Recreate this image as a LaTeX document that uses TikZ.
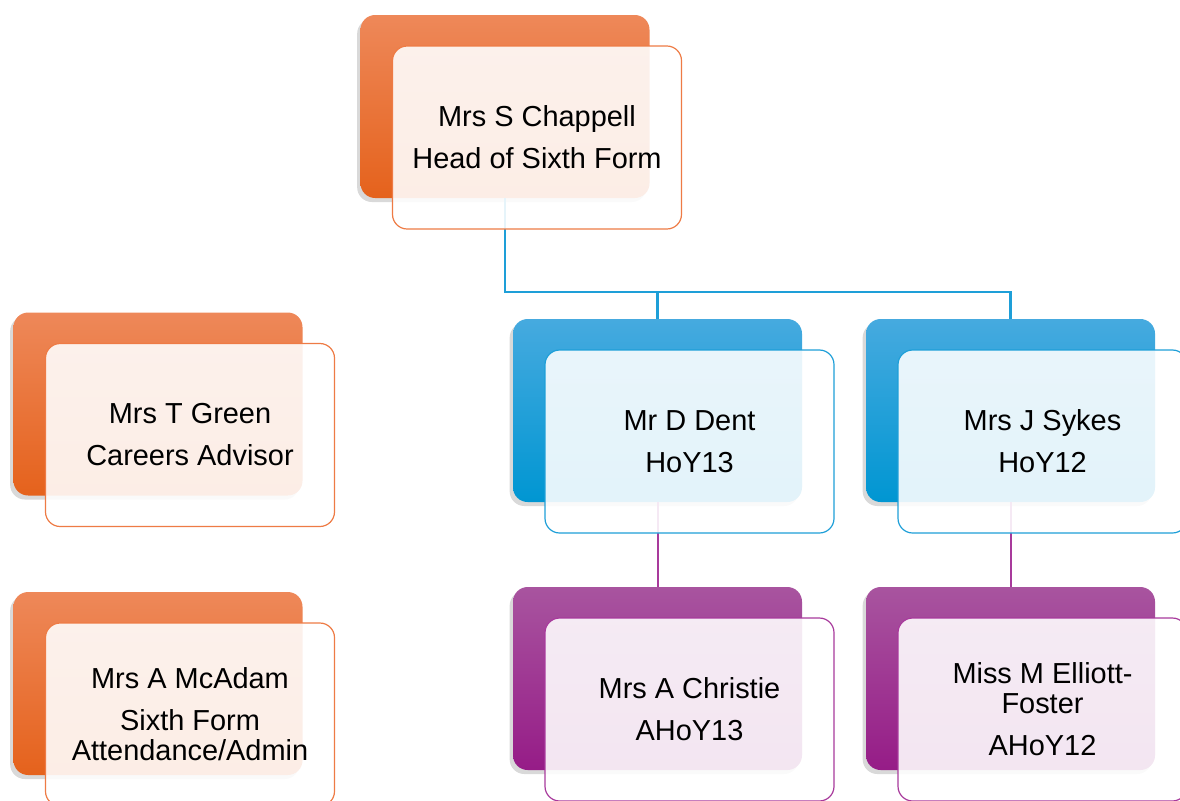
\documentclass[tikz,border=0pt]{standalone}
\usepackage{fontspec}
\setmainfont{Liberation Sans}
\usetikzlibrary{positioning, shadows}

\definecolor{orgT}{HTML}{EE8859}
\definecolor{orgM}{HTML}{F07026}
\definecolor{orgB}{HTML}{E5621C}
\definecolor{orgL}{HTML}{EE7B45}
\definecolor{bluT}{HTML}{46AADF}
\definecolor{bluM}{HTML}{0AA0DA}
\definecolor{bluB}{HTML}{0096D2}
\definecolor{bluL}{HTML}{1E9FD8}
\definecolor{purT}{HTML}{A8549F}
\definecolor{purM}{HTML}{A22792}
\definecolor{purB}{HTML}{961C87}
\definecolor{purL}{HTML}{A83A9C}

\begin{document}
\begin{tikzpicture}[x=0.75pt,y=-0.75pt,
	back/.style={rectangle, rounded corners=11pt, inner sep=0pt,
		minimum width=216.75pt, minimum height=137.25pt,
		drop shadow={shadow xshift=-2.5pt, shadow yshift=-3pt, opacity=0.3}},
	backorg/.style={back, top color=orgT, middle color=orgM, bottom color=orgB},
	backblu/.style={back, top color=bluT, middle color=bluM, bottom color=bluB},
	backpur/.style={back, top color=purT, middle color=purM, bottom color=purB},
	front/.style={rectangle, rounded corners=11pt, draw, line width=0.9pt,
		fill=white, fill opacity=0.89, text opacity=1, align=center,
		minimum width=216.75pt, minimum height=137.25pt, shift={(32,31)},
		font=\fontsize{21.7}{22.5}\selectfont},
	link/.style={line width=2.2pt, bluL},
	linkp/.style={line width=1.5pt, purL}
	]
	\clip (0,0) rectangle (1180,800);

	\node[backorg] (chapB) at (505,106.5) {};
	\node[backorg] (greenB) at (158,404) {};
	\node[backorg] (mcadB) at (158,683.5) {};
	\node[backblu] (dentB) at (657.5,410.5) {};
	\node[backblu] (sykesB) at (1010.5,410.5) {};
	\node[backpur] (christB) at (657.5,678.5) {};
	\node[backpur] (ellB) at (1010.5,678.5) {};

	\coordinate (bar) at (0,292);
	\draw[link] (chapB.south) |- (bar -| sykesB.north) -- (sykesB.north);
	\draw[link] (bar -| dentB.north) -- (dentB.north);
	\draw[linkp] (dentB.south) -- (christB.north);
	\draw[linkp] (sykesB.south) -- (ellB.north);

	\node[front, draw=orgL] (chap) at (chapB) {Mrs S Chappell\\[9pt]Head of Sixth Form};
	\node[front, draw=orgL] (green) at (greenB) {Mrs T Green\\[9pt]Careers Advisor};
	\node[front, draw=orgL] (mcad) at (mcadB) {Mrs A McAdam\\[9pt]Sixth Form\\Attendance/Admin};
	\node[front, draw=bluL] (dent) at (dentB) {Mr D Dent\\[9pt]HoY13};
	\node[front, draw=bluL] (sykes) at (sykesB) {Mrs J Sykes\\[9pt]HoY12};
	\node[front, draw=purL] (christ) at (christB) {Mrs A Christie\\[9pt]AHoY13};
	\node[front, draw=purL] (ell) at (ellB) {Miss M Elliott-\\Foster\\[9pt]AHoY12};
\end{tikzpicture}
\end{document}
